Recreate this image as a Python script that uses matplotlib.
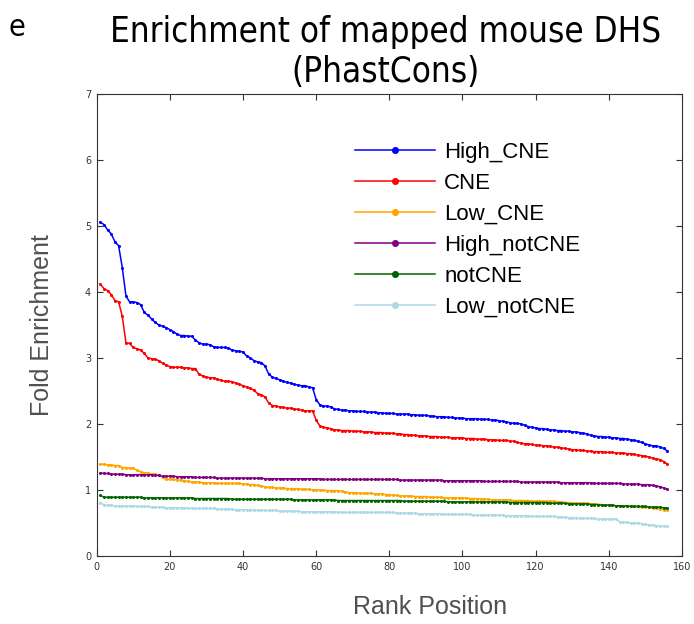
"""Fold enrichment of mapped mouse DHS by rank position (PhastCons)."""
import numpy as np
import matplotlib
matplotlib.use("Agg")
import matplotlib.pyplot as plt  # noqa: E402

# ranks 1..156
HIGH_CNE = [
    5.06, 5.02, 4.94, 4.88, 4.76, 4.70, 4.37, 3.94, 3.85, 3.85,
    3.84, 3.81, 3.69, 3.65, 3.59, 3.54, 3.50, 3.48, 3.46, 3.43,
    3.40, 3.36, 3.34, 3.34, 3.33, 3.33, 3.27, 3.23, 3.21, 3.21,
    3.20, 3.17, 3.16, 3.16, 3.16, 3.15, 3.12, 3.11, 3.10, 3.09,
    3.03, 3.00, 2.96, 2.94, 2.93, 2.88, 2.76, 2.71, 2.69, 2.67,
    2.65, 2.63, 2.62, 2.60, 2.59, 2.58, 2.58, 2.56, 2.55, 2.37,
    2.29, 2.27, 2.27, 2.26, 2.23, 2.22, 2.21, 2.21, 2.20, 2.20,
    2.19, 2.19, 2.19, 2.18, 2.18, 2.18, 2.17, 2.17, 2.16, 2.16,
    2.16, 2.15, 2.15, 2.15, 2.15, 2.14, 2.14, 2.13, 2.13, 2.13,
    2.12, 2.12, 2.11, 2.11, 2.11, 2.10, 2.10, 2.09, 2.09, 2.09,
    2.08, 2.08, 2.08, 2.08, 2.07, 2.07, 2.07, 2.06, 2.06, 2.05,
    2.04, 2.03, 2.02, 2.01, 2.01, 2.00, 1.98, 1.96, 1.95, 1.94,
    1.93, 1.93, 1.92, 1.91, 1.91, 1.90, 1.90, 1.89, 1.89, 1.88,
    1.88, 1.87, 1.86, 1.85, 1.83, 1.82, 1.81, 1.81, 1.80, 1.80,
    1.79, 1.79, 1.78, 1.78, 1.77, 1.76, 1.75, 1.74, 1.72, 1.70,
    1.68, 1.67, 1.67, 1.65, 1.63, 1.59,
]
CNE = [
    4.12, 4.05, 4.02, 3.96, 3.87, 3.85, 3.63, 3.23, 3.22, 3.16,
    3.14, 3.12, 3.07, 3.00, 2.99, 2.98, 2.96, 2.92, 2.89, 2.87,
    2.86, 2.86, 2.86, 2.85, 2.85, 2.84, 2.84, 2.75, 2.73, 2.71,
    2.70, 2.70, 2.68, 2.66, 2.65, 2.65, 2.64, 2.62, 2.60, 2.58,
    2.56, 2.54, 2.51, 2.46, 2.44, 2.41, 2.32, 2.28, 2.27, 2.26,
    2.25, 2.24, 2.24, 2.23, 2.22, 2.21, 2.20, 2.20, 2.20, 2.06,
    1.97, 1.95, 1.94, 1.93, 1.91, 1.91, 1.90, 1.90, 1.90, 1.89,
    1.89, 1.89, 1.88, 1.88, 1.88, 1.87, 1.87, 1.87, 1.86, 1.86,
    1.86, 1.85, 1.85, 1.84, 1.84, 1.83, 1.83, 1.82, 1.82, 1.82,
    1.81, 1.81, 1.81, 1.80, 1.80, 1.80, 1.79, 1.79, 1.79, 1.79,
    1.78, 1.78, 1.78, 1.77, 1.77, 1.77, 1.76, 1.76, 1.76, 1.75,
    1.75, 1.75, 1.74, 1.74, 1.72, 1.71, 1.70, 1.70, 1.69, 1.68,
    1.68, 1.67, 1.67, 1.66, 1.65, 1.65, 1.64, 1.63, 1.62, 1.61,
    1.61, 1.60, 1.60, 1.59, 1.59, 1.58, 1.58, 1.58, 1.57, 1.57,
    1.57, 1.56, 1.56, 1.56, 1.55, 1.55, 1.54, 1.53, 1.52, 1.51,
    1.50, 1.48, 1.47, 1.46, 1.43, 1.39,
]
LOW_CNE = [
    1.39, 1.39, 1.38, 1.38, 1.37, 1.37, 1.34, 1.34, 1.33, 1.33,
    1.30, 1.28, 1.26, 1.26, 1.24, 1.24, 1.22, 1.19, 1.16, 1.16,
    1.16, 1.15, 1.15, 1.14, 1.13, 1.12, 1.12, 1.12, 1.11, 1.11,
    1.11, 1.11, 1.10, 1.10, 1.10, 1.10, 1.10, 1.10, 1.10, 1.09,
    1.09, 1.08, 1.08, 1.07, 1.06, 1.05, 1.04, 1.04, 1.03, 1.03,
    1.03, 1.02, 1.02, 1.02, 1.02, 1.01, 1.01, 1.01, 1.00, 1.00,
    1.00, 1.00, 0.99, 0.99, 0.99, 0.99, 0.98, 0.97, 0.96, 0.96,
    0.96, 0.95, 0.95, 0.95, 0.95, 0.94, 0.94, 0.94, 0.93, 0.93,
    0.92, 0.92, 0.91, 0.91, 0.91, 0.91, 0.90, 0.90, 0.90, 0.90,
    0.89, 0.89, 0.89, 0.89, 0.88, 0.88, 0.88, 0.88, 0.88, 0.88,
    0.88, 0.87, 0.87, 0.87, 0.86, 0.86, 0.86, 0.85, 0.85, 0.85,
    0.85, 0.85, 0.85, 0.84, 0.84, 0.84, 0.84, 0.84, 0.83, 0.83,
    0.83, 0.83, 0.83, 0.83, 0.83, 0.82, 0.82, 0.81, 0.81, 0.80,
    0.80, 0.80, 0.80, 0.80, 0.79, 0.79, 0.78, 0.78, 0.77, 0.77,
    0.77, 0.76, 0.76, 0.76, 0.75, 0.75, 0.75, 0.75, 0.74, 0.74,
    0.74, 0.73, 0.72, 0.71, 0.70, 0.69,
]
HIGH_NOTCNE = [
    1.26, 1.25, 1.25, 1.24, 1.24, 1.24, 1.24, 1.23, 1.23, 1.23,
    1.23, 1.23, 1.23, 1.23, 1.23, 1.22, 1.22, 1.21, 1.21, 1.21,
    1.21, 1.20, 1.20, 1.20, 1.20, 1.20, 1.19, 1.19, 1.19, 1.19,
    1.19, 1.19, 1.18, 1.18, 1.18, 1.18, 1.18, 1.18, 1.18, 1.18,
    1.18, 1.18, 1.18, 1.18, 1.18, 1.17, 1.17, 1.17, 1.17, 1.17,
    1.17, 1.17, 1.17, 1.17, 1.17, 1.17, 1.17, 1.17, 1.17, 1.17,
    1.17, 1.16, 1.16, 1.16, 1.16, 1.16, 1.16, 1.16, 1.16, 1.16,
    1.16, 1.16, 1.16, 1.16, 1.16, 1.16, 1.16, 1.16, 1.16, 1.16,
    1.16, 1.16, 1.15, 1.15, 1.15, 1.15, 1.15, 1.15, 1.15, 1.15,
    1.15, 1.15, 1.15, 1.15, 1.14, 1.14, 1.14, 1.14, 1.14, 1.14,
    1.14, 1.14, 1.14, 1.14, 1.14, 1.13, 1.13, 1.13, 1.13, 1.13,
    1.13, 1.13, 1.13, 1.13, 1.13, 1.12, 1.12, 1.12, 1.12, 1.12,
    1.12, 1.12, 1.12, 1.12, 1.12, 1.12, 1.11, 1.11, 1.11, 1.11,
    1.11, 1.11, 1.11, 1.11, 1.11, 1.10, 1.10, 1.10, 1.10, 1.10,
    1.10, 1.10, 1.10, 1.09, 1.09, 1.09, 1.09, 1.09, 1.08, 1.08,
    1.08, 1.07, 1.06, 1.05, 1.03, 1.01,
]
NOTCNE = [
    0.92, 0.89, 0.89, 0.89, 0.89, 0.89, 0.89, 0.89, 0.89, 0.89,
    0.89, 0.89, 0.88, 0.88, 0.88, 0.88, 0.88, 0.88, 0.88, 0.88,
    0.88, 0.88, 0.88, 0.88, 0.88, 0.88, 0.87, 0.87, 0.87, 0.87,
    0.87, 0.87, 0.87, 0.87, 0.87, 0.87, 0.86, 0.86, 0.86, 0.86,
    0.86, 0.86, 0.86, 0.86, 0.86, 0.86, 0.86, 0.86, 0.86, 0.86,
    0.86, 0.86, 0.86, 0.85, 0.85, 0.85, 0.85, 0.85, 0.85, 0.85,
    0.85, 0.85, 0.85, 0.85, 0.85, 0.84, 0.84, 0.84, 0.84, 0.84,
    0.84, 0.84, 0.84, 0.84, 0.84, 0.84, 0.84, 0.84, 0.84, 0.84,
    0.84, 0.84, 0.84, 0.83, 0.83, 0.83, 0.83, 0.83, 0.83, 0.83,
    0.83, 0.83, 0.83, 0.83, 0.83, 0.82, 0.82, 0.82, 0.82, 0.82,
    0.82, 0.82, 0.82, 0.82, 0.82, 0.82, 0.82, 0.82, 0.82, 0.82,
    0.82, 0.82, 0.81, 0.81, 0.81, 0.81, 0.81, 0.81, 0.81, 0.81,
    0.81, 0.81, 0.81, 0.80, 0.80, 0.80, 0.80, 0.80, 0.79, 0.79,
    0.79, 0.79, 0.79, 0.79, 0.78, 0.78, 0.78, 0.77, 0.77, 0.77,
    0.77, 0.76, 0.76, 0.76, 0.76, 0.75, 0.75, 0.75, 0.75, 0.75,
    0.74, 0.74, 0.74, 0.74, 0.73, 0.73,
]
LOW_NOTCNE = [
    0.81, 0.77, 0.77, 0.77, 0.76, 0.76, 0.76, 0.76, 0.76, 0.76,
    0.75, 0.75, 0.75, 0.75, 0.74, 0.74, 0.74, 0.74, 0.73, 0.73,
    0.73, 0.73, 0.73, 0.73, 0.73, 0.72, 0.72, 0.72, 0.72, 0.72,
    0.72, 0.72, 0.71, 0.71, 0.71, 0.71, 0.71, 0.70, 0.70, 0.70,
    0.70, 0.70, 0.70, 0.69, 0.69, 0.69, 0.69, 0.69, 0.69, 0.68,
    0.68, 0.68, 0.68, 0.68, 0.68, 0.67, 0.67, 0.67, 0.67, 0.67,
    0.67, 0.67, 0.67, 0.67, 0.67, 0.66, 0.66, 0.66, 0.66, 0.66,
    0.66, 0.66, 0.66, 0.66, 0.66, 0.66, 0.66, 0.66, 0.66, 0.66,
    0.66, 0.65, 0.65, 0.65, 0.65, 0.65, 0.65, 0.64, 0.64, 0.64,
    0.64, 0.64, 0.64, 0.64, 0.63, 0.63, 0.63, 0.63, 0.63, 0.63,
    0.63, 0.63, 0.62, 0.62, 0.62, 0.62, 0.62, 0.62, 0.62, 0.62,
    0.62, 0.61, 0.61, 0.61, 0.61, 0.61, 0.61, 0.61, 0.60, 0.60,
    0.60, 0.60, 0.60, 0.60, 0.60, 0.59, 0.59, 0.59, 0.58, 0.58,
    0.58, 0.57, 0.57, 0.57, 0.57, 0.57, 0.56, 0.56, 0.56, 0.56,
    0.56, 0.56, 0.52, 0.51, 0.51, 0.50, 0.50, 0.50, 0.49, 0.48,
    0.47, 0.47, 0.46, 0.46, 0.45, 0.45,
]

SERIES = [
    ("High_CNE", HIGH_CNE, "#0000ff"),
    ("CNE", CNE, "#ff0000"),
    ("Low_CNE", LOW_CNE, "#ffa500"),
    ("High_notCNE", HIGH_NOTCNE, "#800080"),
    ("notCNE", NOTCNE, "#006400"),
    ("Low_notCNE", LOW_NOTCNE, "#add8e6"),
]

X_TICKS = [0, 20, 40, 60, 80, 100, 120, 140, 160]
Y_TICKS = [0, 1, 2, 3, 4, 5, 6, 7]


def main():
    fig = plt.figure(figsize=(6.94, 6.24), dpi=100)
    ax = fig.add_axes([0.1393, 0.1090, 0.8434, 0.7404])

    for label, vals, color in SERIES:
        rank = np.arange(1, len(vals) + 1)
        ax.plot(rank, vals, color=color, lw=1.1, marker="o", markersize=2.2,
                markeredgewidth=0, label=label)

    ax.set_xlim(0, 160)
    ax.set_ylim(0, 7)
    ax.set_xticks(X_TICKS)
    ax.set_yticks(Y_TICKS)
    ax.tick_params(direction="in", top=True, right=True, length=4, width=0.8,
                   labelsize=7, colors="#333333", pad=4)
    for sp in ax.spines.values():
        sp.set_color("#333333")
        sp.set_linewidth(0.8)

    ax.legend(loc="upper left", bbox_to_anchor=(0.408, 0.94), frameon=False,
              handlelength=3.6, handletextpad=0.4, labelspacing=0.45,
              numpoints=1, markerscale=2.3,
              prop={"family": "Liberation Sans", "size": 16})

    fig.text(42 / 694, 1 - 325 / 624, "Fold Enrichment", rotation=90,
             ha="center", va="center", fontsize=18, color="#505050",
             family="Liberation Sans")
    fig.text(430 / 694, 1 - 607 / 624, "Rank Position", ha="center",
             va="center", fontsize=18, color="#505050",
             family="Liberation Sans")

    fig.text(386 / 694, 1 - 52 / 624, "Enrichment of mapped mouse DHS\n(PhastCons)",
             ha="center", va="center", fontsize=25, family="DejaVu Sans",
             stretch="condensed", linespacing=1.2)
    fig.text(8 / 694, 1 - 27 / 624, "e", ha="left", va="center", fontsize=22,
             family="DejaVu Sans", stretch="condensed")

    fig.savefig("out.png", dpi=100)
    plt.close(fig)


if __name__ == "__main__":
    main()
